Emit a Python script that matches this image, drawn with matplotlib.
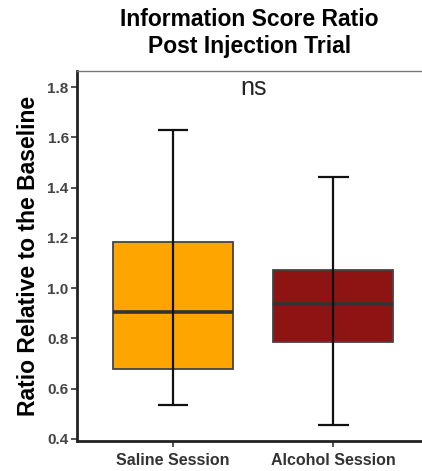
import matplotlib
matplotlib.use('Agg')
import matplotlib.pyplot as plt

plt.rcParams['font.family'] = ['Liberation Sans', 'DejaVu Sans']

sessions = ['Saline Session', 'Alcohol Session']
whisk_lo = [0.534, 0.455]
q1 = [0.679, 0.784]
medians = [0.905, 0.935]
q3 = [1.184, 1.072]
whisk_hi = [1.630, 1.443]
colors = ['#FFA500', '#8E1414']
yticks = [0.4, 0.6, 0.8, 1.0, 1.2, 1.4, 1.6, 1.8]

fig = plt.figure(figsize=(4.22, 4.71), dpi=100)
ax = fig.add_axes([0.1825, 0.0637, 0.8175, 0.786])

stats = []
for i, name in enumerate(sessions):
    stats.append(dict(label=name, whislo=whisk_lo[i], q1=q1[i], med=medians[i],
                      q3=q3[i], whishi=whisk_hi[i], fliers=[]))
pos = list(range(1, len(sessions) + 1))
bp = ax.bxp(stats, positions=pos, widths=0.75, patch_artist=True,
            showcaps=False, whiskerprops=dict(linewidth=0),
            medianprops=dict(color='#333333', linewidth=2.6),
            boxprops=dict(edgecolor='#444444', linewidth=1.3))
for patch, c in zip(bp['boxes'], colors):
    patch.set_facecolor(c)

# error-bar style whiskers drawn over the boxes
for i, p in enumerate(pos):
    ax.vlines(p, whisk_lo[i], whisk_hi[i], color='#111111', linewidth=1.6, zorder=5)
    ax.hlines([whisk_lo[i], whisk_hi[i]], p - 0.095, p + 0.095, color='#111111',
              linewidth=1.6, zorder=5)

ax.text(1.5, 1.795, 'ns', ha='center', va='center', fontsize=18, color='#222222')

ax.set_xlim(0.4, 2.553)
ax.set_ylim(0.391, 1.865)
ax.set_xticks(pos)
ax.set_xticklabels(sessions, fontsize=11.5, fontweight='bold', color='#333333')
ax.set_yticks(yticks)
ax.set_yticklabels(['%.1f' % v for v in yticks], fontsize=11, fontweight='bold', color='#444444')
ax.tick_params(axis='both', direction='out', length=4, width=1.2, color='#333333', pad=2)
ax.tick_params(axis='x', pad=5)
ax.set_ylabel('Ratio Relative to the Baseline', fontsize=16.5, fontweight='bold', labelpad=5)
ax.set_title('Information Score Ratio\nPost Injection Trial', fontsize=16.5, fontweight='bold', pad=13)

for s in ['left', 'bottom']:
    ax.spines[s].set_linewidth(2)
    ax.spines[s].set_color('#222222')
ax.spines['top'].set_linewidth(1)
ax.spines['top'].set_color('#777777')
ax.spines['right'].set_visible(False)

fig.savefig('out.png', dpi=100)
